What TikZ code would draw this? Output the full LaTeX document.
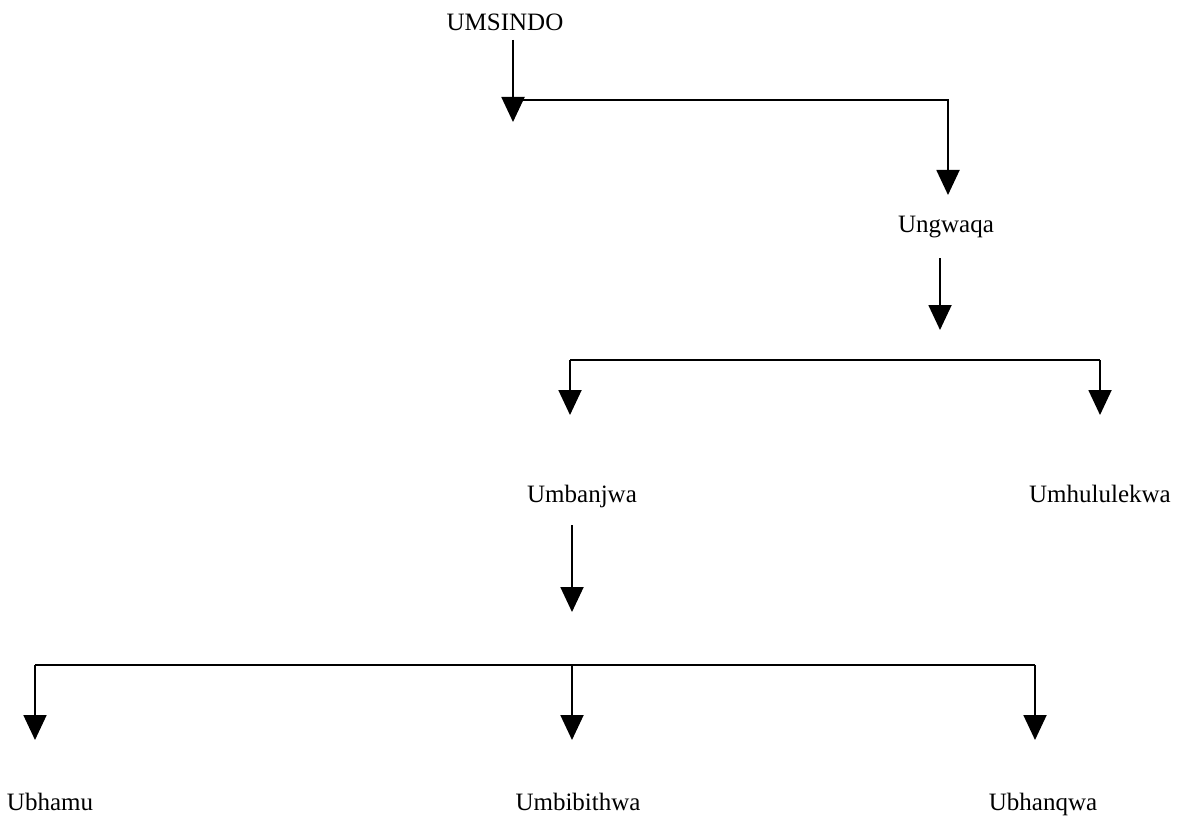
\documentclass[tikz,border=0pt]{standalone}
\usepackage{fontspec}
\setmainfont{Liberation Serif}
\usetikzlibrary{arrows.meta}
\begin{document}
\begin{tikzpicture}[x=1pt,y=-1pt,
  lbl/.style={font=\fontsize{25}{29}\selectfont, inner sep=0pt, anchor=base},
  ln/.style={line width=1.9pt},
  arr/.style={line width=1.9pt, -{Triangle[width=23pt,length=25pt]}}]
\useasboundingbox[fill=white] (0,0) rectangle (1182,821);
% labels
\node[lbl] (umsindo) at (505,31) {UMSINDO};
\node[lbl] (ungwaqa) at (946,232) {Ungwaqa};
\node[lbl] (umbanjwa) at (582,502) {Umbanjwa};
\node[lbl] (umhululekwa) at (1100,502) {Umhululekwa};
\node[lbl] (ubhamu) at (50,810) {Ubhamu};
\node[lbl] (umbibithwa) at (578,810) {Umbibithwa};
\node[lbl] (ubhanqwa) at (1043,810) {Ubhanqwa};
% coordinates
\coordinate (a1s) at (513,40);
\coordinate (a1e) at (513,122);
\coordinate (b1s) at (513,100);
\coordinate (b1c) at (948,100);
\coordinate (b1e) at (948,195);
\coordinate (a2s) at (940,258);
\coordinate (a2e) at (940,330);
\coordinate (b2l) at (570,360);
\coordinate (b2r) at (1100,360);
\coordinate (b2le) at (570,415);
\coordinate (b2re) at (1100,415);
\coordinate (a3s) at (572,525);
\coordinate (a3e) at (572,612);
\coordinate (b3l) at (35,665);
\coordinate (b3m) at (572,665);
\coordinate (b3r) at (1035,665);
\coordinate (b3le) at (35,740);
\coordinate (b3me) at (572,740);
\coordinate (b3re) at (1035,740);
% connectors
\draw[arr] (a1s) -- (a1e);
\draw[arr] (b1s) -- (b1c) -- (b1e);
\draw[arr] (a2s) -- (a2e);
\draw[ln] (b2l) -- (b2r);
\draw[arr] (b2l) -- (b2le);
\draw[arr] (b2r) -- (b2re);
\draw[arr] (a3s) -- (a3e);
\draw[ln] (b3l) -- (b3r);
\draw[arr] (b3l) -- (b3le);
\draw[arr] (b3m) -- (b3me);
\draw[arr] (b3r) -- (b3re);
\end{tikzpicture}
\end{document}
